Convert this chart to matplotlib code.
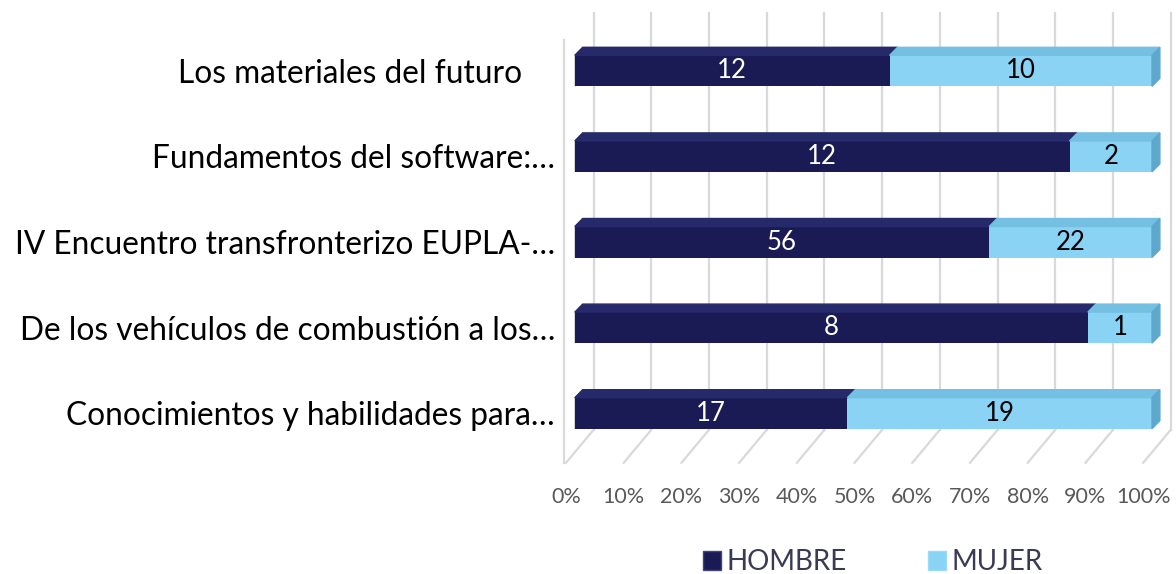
import numpy as np
import matplotlib.pyplot as plt
from matplotlib.patches import Polygon, Patch

plt.rcParams['font.family'] = ['Lato', 'DejaVu Sans']

# data (top to bottom as drawn)
cursos = ['Los materiales del futuro    ',
          'Fundamentos del software:\u2026',
          'IV Encuentro transfronterizo EUPLA-\u2026',
          'De los veh\u00edculos de combusti\u00f3n a los\u2026',
          'Conocimientos y habilidades para\u2026']
hombre = [12, 12, 56, 8, 17]
mujer = [10, 2, 22, 1, 19]
ticks = np.arange(0, 1.01, 0.1)
tick_labels = ['%d%%' % round(t * 100) for t in ticks]

c_h = '#1a1a55'
c_h_top = '#262a6a'
c_m = '#8ad3f4'
c_m_top = '#74c0e2'
c_m_side = '#5ea8cd'
grid_c = '#d9d9d9'

fig = plt.figure(figsize=(11.76, 5.74), dpi=100)
# axes: x 566..1152 px, y 28..456 px
ax = fig.add_axes([566/1176, 1 - 456/574, 586/1176, 428/574])
ax.set_xlim(0, 1)
ax.set_ylim(4.5, -0.5)

PX = 1.0 / 586      # data units per pixel in x
PY = 1.0 / 85.6     # data units per pixel in y
back = 19 * PX      # back wall shift
front = -9 * PX     # front floor shift

# wall gridlines and floor diagonals
y_top = (13 - 71) * PY
y_back = (430 - 71) * PY
y_front = (463 - 71) * PY
for t in ticks:
    ax.plot([t + back, t + back], [y_top, y_back], color=grid_c, lw=1.6,
            clip_on=False, zorder=0)
    ax.plot([t + back, t + front], [y_back, y_front], color=grid_c, lw=1.6,
            clip_on=False, zorder=0)
ax.plot([front - 2 * PX, front - 2 * PX], [(40 - 71) * PY, y_front],
        color=grid_c, lw=1.6, clip_on=False, zorder=0)

y = np.arange(len(cursos))
tot = np.array(hombre) + np.array(mujer)
ph = np.array(hombre) / tot
pm = np.array(mujer) / tot
h = 31 * PY
dx, dy = 8 * PX, -8 * PY

ax.barh(y, ph, height=h, color=c_h, zorder=3)
ax.barh(y, pm, left=ph, height=h, color=c_m, zorder=3)

for i in range(len(y)):
    top = y[i] - h / 2
    # shadow at left end
    ax.add_patch(Polygon([(0, top), (dx, top + dy), (dx, y[i] + h / 2 + dy),
                          (0, y[i] + h / 2)], closed=True, color='#b0b0b8',
                         alpha=0.6, zorder=2, clip_on=False))
    # top faces
    ax.add_patch(Polygon([(0, top), (ph[i], top), (ph[i] + dx, top + dy),
                          (dx, top + dy)], closed=True, color=c_h_top,
                         zorder=3, clip_on=False))
    ax.add_patch(Polygon([(ph[i], top), (1, top), (1 + dx, top + dy),
                          (ph[i] + dx, top + dy)], closed=True, color=c_m_top,
                         zorder=3, clip_on=False))
    # right side face
    ax.add_patch(Polygon([(1, top), (1 + dx, top + dy),
                          (1 + dx, y[i] + h / 2 + dy), (1, y[i] + h / 2)],
                         closed=True, color=c_m_side, zorder=3, clip_on=False))
    ax.text(ph[i] / 2, y[i], str(hombre[i]), color='white', fontsize=18.5,
            ha='center', va='center', zorder=4)
    ax.text(ph[i] + pm[i] / 2, y[i], str(mujer[i]), color='black', fontsize=18.5,
            ha='center', va='center', zorder=4)

ax.set_yticks(y)
ax.set_yticklabels(cursos, fontsize=22.8, color='black')
ax.set_xticks(ticks + front)
ax.set_xticklabels(tick_labels, fontsize=15.5, color='#595959')
ax.tick_params(axis='y', length=0, pad=8)
ax.tick_params(axis='x', length=0, pad=22)
for s in ax.spines.values():
    s.set_visible(False)
ax.patch.set_visible(False)

handles = [Patch(facecolor=c_h, edgecolor='#44447a', label='HOMBRE'),
           Patch(facecolor=c_m, edgecolor='#9adcf5', label='MUJER')]
fig.legend(handles=handles, loc='center', bbox_to_anchor=(873/1176, 1 - 562/574),
           ncol=2, frameon=False, fontsize=20, handlelength=0.65, handleheight=0.65,
           handletextpad=0.2, columnspacing=2.9, labelcolor='#3a3a55')

fig.savefig('out.png', dpi=100)
